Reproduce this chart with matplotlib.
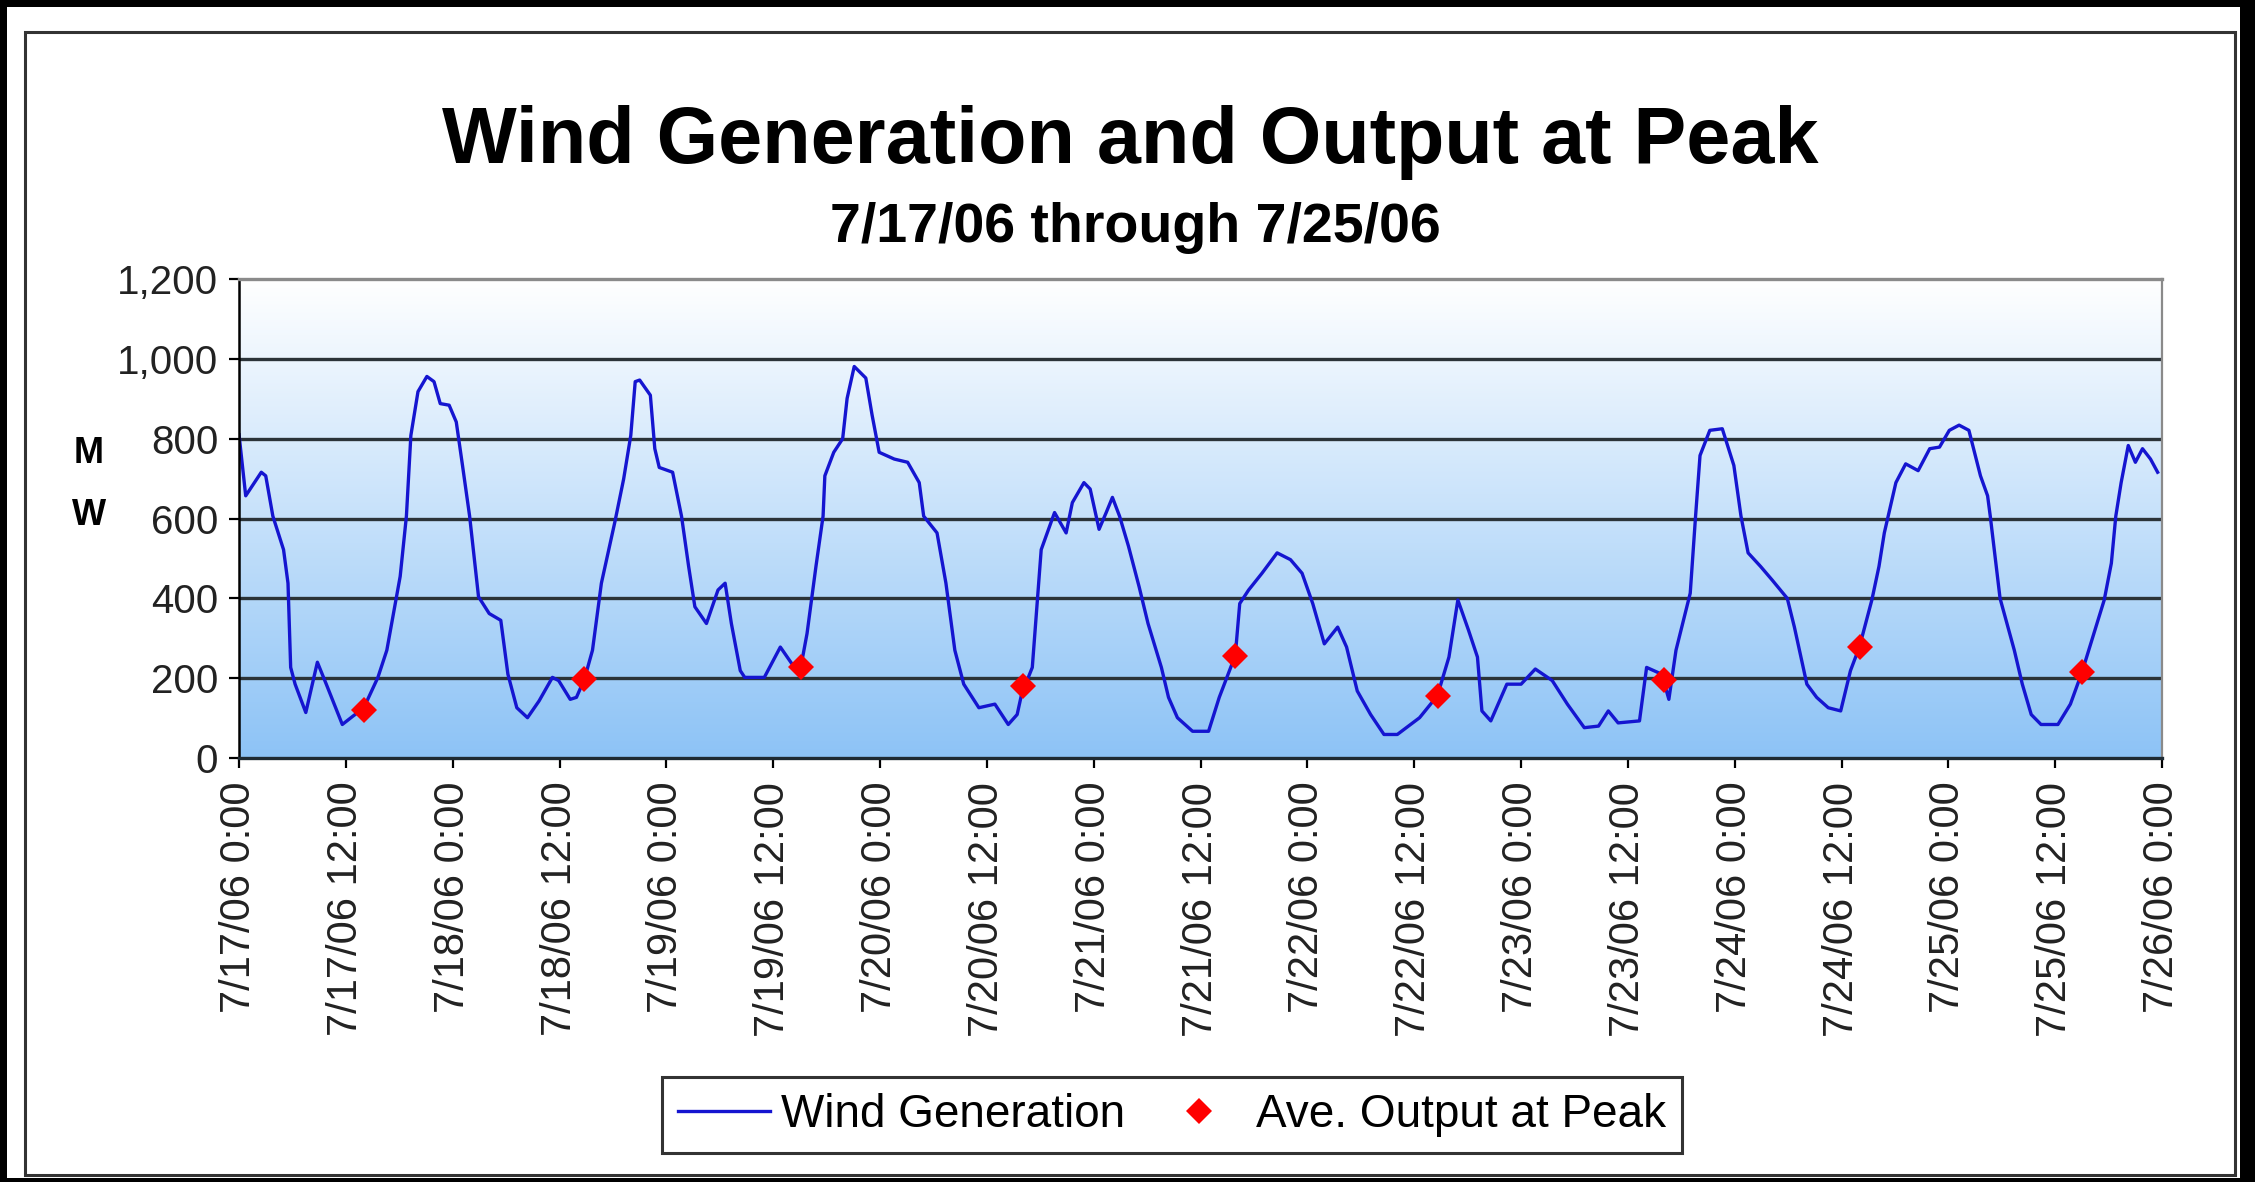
import numpy as np
import matplotlib
matplotlib.use('Agg')
from matplotlib import pyplot as plt
from matplotlib.colors import LinearSegmentedColormap
from matplotlib.patches import Rectangle
from matplotlib.lines import Line2D

plt.rcParams['font.family'] = ['Liberation Sans', 'DejaVu Sans']

# hours since 7/17/06 0:00 and wind generation (MW)
hours = [0, 0.75, 2.5, 3, 3.8, 5, 5.5, 5.8, 6.3, 7.5, 8.8, 9.8, 11.6, 12.8, 14.0,
         15.6, 16.6, 18.1, 18.8, 19.3, 20.1, 21.1, 21.9, 22.6, 23.6, 24.4, 25.1,
         25.9, 26.9, 28.1, 29.4, 30.2, 31.2, 32.4, 33.7, 35.2, 35.9, 37.2, 37.9,
         38.8, 39.7, 40.7, 42.2, 43.2, 44.0, 44.5, 45, 46.2, 46.7, 47.2, 48.7,
         49.7, 50.5, 51.2, 52.5, 53.8, 54.6, 55.3, 56.3, 56.8, 59.0, 60.8, 62.1,
         63.1, 63.8, 64.8, 65.6, 65.8, 66.8, 67.8, 68.3, 69.1, 70.4, 71.1, 71.9,
         73.6, 75.1, 76.4, 76.9, 78.4, 79.4, 80.4, 81.4, 83.1, 84.9, 86.4, 87.4,
         87.9, 89.1, 90.1, 91.6, 92.9, 93.6, 94.9, 95.6, 96.6, 97.4, 98.1, 98.9,
         99.9, 101.1, 102.1, 103.6, 104.4, 105.4, 107.1, 108.9, 110.1, 111.9,
         112.4, 113.4, 114.9, 116.6, 118.1, 119.4, 120.6, 121.9, 123.4, 124.4,
         125.6, 127.1, 128.6, 130.1, 132.6, 134.6, 135.9, 136.9, 138.1, 139.1,
         139.6, 140.6, 142.4, 144, 145.6, 147.5, 149.2, 151.1, 152.7, 153.8,
         154.9, 157.3, 158.1, 159.8, 160.6, 161.4, 163.0, 163.6, 164.1, 165.2,
         166.6, 167.9, 168.7, 169.5, 170.9, 172.2, 173.9, 174.7, 176.1, 177.2,
         178.5, 179.9, 181.0, 182.0, 183.4, 184.2, 184.8, 186.1, 187.2, 188.6,
         189.9, 191.0, 192.1, 193.2, 194.3, 195.6, 196.4, 196.7, 197.8, 199.4,
         200.3, 201.3, 202.4, 204.3, 205.7, 207.0, 209.5, 210.3, 210.8, 211.4,
         212.2, 213.0, 213.8, 214.7, 215.5]
wind_mw = [810, 657, 716, 707, 606, 522, 438, 227, 185, 114, 240, 185, 84, 105, 125,
           202, 270, 455, 606, 808, 918, 956, 943, 888, 884, 842, 733,
           606, 404, 362, 345, 210, 126, 101, 143, 202, 194, 147, 152,
           198, 270, 438, 590, 699, 808, 943, 947, 909, 775, 728, 716,
           606, 480, 379, 337, 421, 438, 337, 219, 202, 202, 278, 236,
           228, 312, 480, 606, 707, 766, 800, 901, 981, 952, 860, 766,
           749, 741, 690, 606, 564, 438, 270, 185, 126, 135, 84, 109,
           160, 227, 522, 615, 564, 640, 690, 674, 573, 615, 653, 606,
           531, 429, 337, 227, 152, 101, 67, 67, 152, 257,
           387, 421, 463, 514, 497, 463, 387, 286, 328, 278,
           168, 109, 59, 59, 101, 156, 253, 396, 320, 253,
           118, 93, 185, 185, 223, 194, 135, 76, 80, 118,
           88, 93, 227, 210, 147, 270, 413, 606, 758, 821,
           825, 733, 606, 514, 480, 446, 400, 328, 185, 152,
           126, 118, 219, 278, 396, 480, 564, 690, 737, 720,
           775, 779, 821, 834, 821, 707, 657, 606, 400, 270,
           185, 109, 84, 84, 135, 215, 396, 488, 606, 690,
           783, 741, 775, 749, 716]

# average output at peak
peak_hours = [14.0, 38.7, 63.1, 88.1, 111.9, 134.7, 160.1, 182.1, 207.0]
peak_mw = [120, 198, 228, 180, 256, 156, 195, 278, 215]

x_ticks = list(range(0, 217, 12))
x_labels = ['7/17/06 0:00', '7/17/06 12:00', '7/18/06 0:00', '7/18/06 12:00',
            '7/19/06 0:00', '7/19/06 12:00', '7/20/06 0:00', '7/20/06 12:00',
            '7/21/06 0:00', '7/21/06 12:00', '7/22/06 0:00', '7/22/06 12:00',
            '7/23/06 0:00', '7/23/06 12:00', '7/24/06 0:00', '7/24/06 12:00',
            '7/25/06 0:00', '7/25/06 12:00', '7/26/06 0:00']
y_ticks = [0, 200, 400, 600, 800, 1000, 1200]
y_labels = ['0', '200', '400', '600', '800', '1,000', '1,200']

fig = plt.figure(figsize=(22.55, 11.82), dpi=100, facecolor='black')

# white page and thin frame
fig.patches.append(Rectangle((0.0031, 0.0034), 0.9902, 0.9907, transform=fig.transFigure,
                             facecolor='white', edgecolor='none', zorder=-2))
fig.patches.append(Rectangle((0.0111, 0.0059), 0.980, 0.967, transform=fig.transFigure,
                             facecolor='none', edgecolor='#333333', linewidth=2.2, zorder=-1))

ax = fig.add_axes([0.106, 0.3587, 0.8528, 0.4052])

# gradient background: white at top, light blue at bottom
cmap = LinearSegmentedColormap.from_list('bg', ['#8dc3f6', '#ffffff'])
grad = np.linspace(0, 1, 256).reshape(-1, 1)
ax.imshow(grad, extent=[0, 216, 0, 1200], origin='lower', aspect='auto', cmap=cmap, zorder=0)

for v in y_ticks[1:-1]:
    ax.axhline(v, color='#2b3338', linewidth=2.4, zorder=1)

ax.plot(hours, wind_mw, color='#1515d0', linewidth=2.4, zorder=2, label='Wind Generation')
ax.plot(peak_hours, peak_mw, linestyle='none', marker='D', markersize=13, color='#ff0000',
        markeredgewidth=0, zorder=3, label='Ave. Output at Peak')

ax.set_xlim(0, 216)
ax.set_ylim(0, 1200)
ax.set_xticks(x_ticks)
ax.set_xticklabels(x_labels, rotation=90, fontsize=30, color='#222222')
ax.set_yticks(y_ticks)
ax.set_yticklabels(y_labels, fontsize=29, color='#222222')
ax.tick_params(axis='both', direction='out', length=7, width=1.6, color='black')
ax.tick_params(axis='x', pad=10)
ax.tick_params(axis='y', pad=8)

ax.spines['left'].set_color('black')
ax.spines['left'].set_linewidth(1.8)
ax.spines['bottom'].set_color('#1e2a33')
ax.spines['bottom'].set_linewidth(2.4)
ax.spines['top'].set_color('#8a8a8a')
ax.spines['top'].set_linewidth(2.4)
ax.spines['right'].set_color('#8a8a8a')
ax.spines['right'].set_linewidth(1.6)

# titles
fig.text(0.501, 0.862, 'Wind Generation and Output at Peak', ha='center', va='baseline',
         fontsize=57, fontweight='bold')
fig.text(0.5035, 0.7955, '7/17/06 through 7/25/06', ha='center', va='baseline',
         fontsize=40, fontweight='bold')

# stacked y label
fig.text(0.0395, 0.616, 'M', ha='center', va='center', fontsize=26, fontweight='bold')
fig.text(0.0395, 0.564, 'W', ha='center', va='center', fontsize=26, fontweight='bold')

handles = [Line2D([], [], color='#1515d0', linewidth=2.4),
           Line2D([], [], linestyle='none', marker='D', markersize=13, color='#ff0000',
                  markeredgewidth=0)]
leg = fig.legend(handles, ['Wind Generation', 'Ave. Output at Peak'], loc='center',
                 bbox_to_anchor=(0.5197, 0.0567), ncol=2, fontsize=33, frameon=True,
                 fancybox=False, shadow=False, handlelength=2.0, handletextpad=0.25,
                 columnspacing=0.6, borderpad=0.35)
leg.get_frame().set_edgecolor('black')
leg.get_frame().set_linewidth(2.2)
leg.get_frame().set_facecolor('white')

fig.savefig('out.png', dpi=100, facecolor=fig.get_facecolor())
